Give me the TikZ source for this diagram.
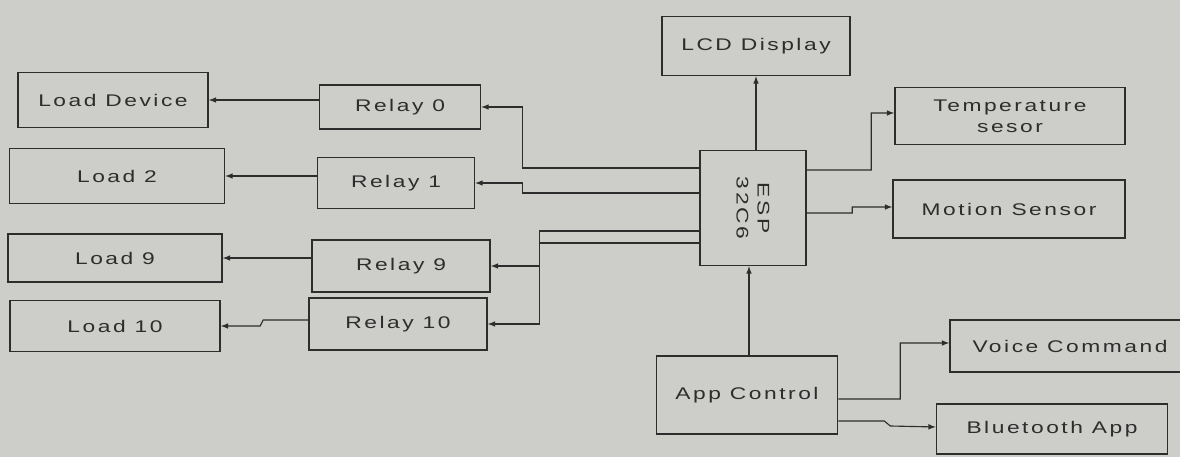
\documentclass[tikz,border=0pt]{standalone}
\usepackage{fontspec}
\setmainfont{Liberation Sans}[FakeStretch=1.35,LetterSpace=15]
\usetikzlibrary{calc}
\definecolor{paper}{RGB}{205,205,202}
\definecolor{ink}{RGB}{45,45,45}
\begin{document}
\begin{tikzpicture}[x=0.025cm,y=-0.025cm,
    block/.style={draw=ink,line width=1.1pt,inner sep=2pt,align=center,
      font=\fontsize{12}{15}\selectfont,text=ink},
    wire/.style={draw=ink,line width=0.8pt}]
    \useasboundingbox[fill=paper] (0,0) rectangle (1180,457);
    % loads
    \node[block,minimum width=4.75cm,minimum height=1.375cm] (loaddev) at (113,100) {Load Device};
    \node[block,minimum width=5.375cm,minimum height=1.375cm] (load2) at (117,176) {Load 2};
    \node[block,minimum width=5.35cm,minimum height=1.2cm] (load9) at (115,258) {Load 9};
    \node[block,minimum width=5.25cm,minimum height=1.275cm] (load10) at (115,326) {Load 10};
    % relays
    \node[block,minimum width=4.025cm,minimum height=1.1cm] (relay0) at (400,107) {Relay 0};
    \node[block,minimum width=3.925cm,minimum height=1.275cm] (relay1) at (396,183) {Relay 1};
    \node[block,minimum width=4.45cm,minimum height=1.3cm] (relay9) at (401,266) {Relay 9};
    \node[block,minimum width=4.45cm,minimum height=1.3cm] (relay10) at (398,324) {Relay 10};
    % controller and peripherals
    \node[block,minimum width=2.65cm,minimum height=2.875cm] (esp) at (753,208) {};
    \node[rotate=-90,align=center,text=ink,font=\fontsize{12}{15}\selectfont] at (esp) {ESP\\32C6};
    \node[block,minimum width=4.7cm,minimum height=1.475cm] (lcd) at (756,46) {LCD Display};
    \node[block,minimum width=5.75cm,minimum height=1.425cm] (temp) at (1010,116) {Temperature\\sesor};
    \node[block,minimum width=5.8cm,minimum height=1.45cm] (motion) at (1009,209) {Motion Sensor};
    \node[block,minimum width=4.525cm,minimum height=1.95cm] (app) at (747,395) {App Control};
    \node[block,minimum width=6cm,minimum height=1.3cm] (voice) at (1070,346) {Voice Command};
    \node[block,minimum width=5.775cm,minimum height=1.25cm] (bt) at (1052,429) {Bluetooth App};
    \begin{scope}[-latex,wire]
      \draw ([yshift=1cm]esp.west) -| ($(relay0.east)+(41,0)$) -- (relay0.east);
      \draw ([yshift=0.375cm]esp.west) -| ($(relay1.east)+(47,0)$) -- (relay1.east);
      \draw ([yshift=-0.575cm]esp.west) -| ($(relay9.east)+(49,0)$) -- (relay9.east);
      \draw ([yshift=-0.875cm]esp.west) -| ($(relay10.east)+(52,0)$) -- (relay10.east);
      \draw (relay0.west |- loaddev.east) -- (loaddev.east);
      \draw (relay1.west |- load2.east) -- (load2.east);
      \draw (relay9.west |- load9.east) -- (load9.east);
      \draw ([yshift=0.1cm]relay10.west) -- ++(-45,0) -- ++(-3,6) -- (load10.east);
      \draw (lcd.south |- esp.north) -- (lcd.south);
      \draw ([yshift=0.95cm]esp.east) -| ($(temp.west)+(-23,-3)$) -- ([yshift=0.075cm]temp.west);
      \draw ([yshift=-0.125cm]esp.east) -| ($(motion.west)+(-40,-2)$) -- ([yshift=0.05cm]motion.west);
      \draw (app.north -| esp.south) ++(-4,0) coordinate (up) (app.north -| up) -- (esp.south -| up);
      \draw ([yshift=-0.1cm]app.east) -| ($(voice.west)+(-49,-3)$) -- ([yshift=0.075cm]voice.west);
      \draw ([yshift=-0.65cm]app.east) -- ++(46,0) -- ++(6,5) -- ([yshift=0.05cm]bt.west);
    \end{scope}
  \end{tikzpicture}
\end{document}
